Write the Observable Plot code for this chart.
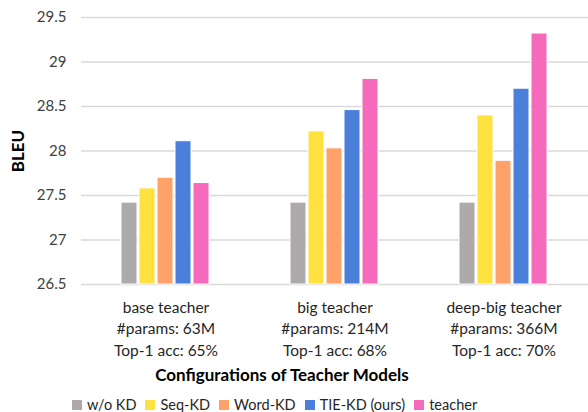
<!DOCTYPE html>
<html>
<head>
<meta charset="utf-8">
<script src="https://cdn.jsdelivr.net/npm/d3@7"></script>
<script src="https://cdn.jsdelivr.net/npm/@observablehq/plot@0.6"></script>
<style>
  html, body { margin: 0; padding: 0; background: #fff; }
  body { width: 588px; height: 412px; overflow: hidden; font-family: Lato, sans-serif; }
  g[aria-label="y-axis label"] text { font-weight: bold; font-size: 17px; fill: #000; }
  #title { width: 564px; text-align: center; font-weight: bold; font-size: 17px; line-height: 22px; height: 22px; color: #000; }
  #legend { padding-top: 10px; margin-left: 72px; }
  #legend > div { min-height: 0 !important; margin: 0 !important; line-height: 18px; }
  .lg-swatch { margin-right: 9px !important; font-size: 14.5px; color: #262626; line-height: 18px; }
  .lg-swatch > svg { margin-right: 5px !important; }
</style>
</head>
<body>
<div id="chart"></div>
<div id="title"></div>
<div id="legend"></div>
<script>
const groups = ["base teacher", "big teacher", "deep-big teacher"];
const groupLabels = [
  "base teacher\n#params: 63M\nTop-1 acc: 65%",
  "big teacher\n#params: 214M\nTop-1 acc: 68%",
  "deep-big teacher\n#params: 366M\nTop-1 acc: 70%"
];
const methods = ["w/o KD", "Seq-KD", "Word-KD", "TIE-KD (ours)", "teacher"];
const colors = ["#AEAAAA", "#FFE13F", "#FFA26A", "#4A80DA", "#F56ABA"];
const woKD = [27.42, 27.42, 27.42];
const seqKD = [27.58, 28.22, 28.40];
const wordKD = [27.70, 28.03, 27.89];
const tieKD = [28.11, 28.46, 28.70];
const teacher = [27.64, 28.81, 29.32];
const yTicks = [26.5, 27, 27.5, 28, 28.5, 29, 29.5];
const yLabel = "BLEU";
const xTitle = "Configurations of Teacher Models";

const series = [woKD, seqKD, wordKD, tieKD, teacher];
const data = [];
groups.forEach((g, gi) => methods.forEach((m, mi) => data.push({group: g, method: m, value: series[mi][gi]})));
const base = yTicks[0];

const chart = Plot.plot({
  width: 588,
  height: 364,
  marginTop: 17,
  marginBottom: 80,
  marginLeft: 81,
  marginRight: 0,
  style: {fontFamily: "Lato, sans-serif", fontSize: "15px", color: "#404040", background: "#fff"},
  fx: {domain: groups, padding: 0},
  x: {domain: methods, paddingInner: 0.1, paddingOuter: 2.15, axis: null},
  y: {domain: [yTicks[0], yTicks[yTicks.length - 1]]},
  color: {domain: methods, range: colors},
  marks: [
    Plot.gridY(yTicks, {stroke: "#d9d9d9", strokeOpacity: 1, strokeWidth: 1.3}),
    Plot.barY(data, {fx: "group", x: "method", y1: base, y2: "value", fill: "method", stroke: "#fff", strokeWidth: 1}),
    Plot.axisY(yTicks, {tickSize: 0, tickPadding: 15, tickFormat: d => String(d), label: yLabel, labelArrow: "none", labelAnchor: "center", labelOffset: 70}),
    Plot.axisFx({anchor: "bottom", tickSize: 0, tickPadding: 13, tickFormat: g => groupLabels[groups.indexOf(g)], lineHeight: 1.39, fontSize: 15.5, fill: "#262626", label: null})
  ]
});
document.getElementById("chart").appendChild(chart);
document.getElementById("title").textContent = xTitle;
const leg = chart.legend("color", {swatchSize: 10, className: "lg", style: {fontFamily: "Lato, sans-serif", fontSize: "14.5px"}});
document.getElementById("legend").appendChild(leg);
</script>
</body>
</html>
